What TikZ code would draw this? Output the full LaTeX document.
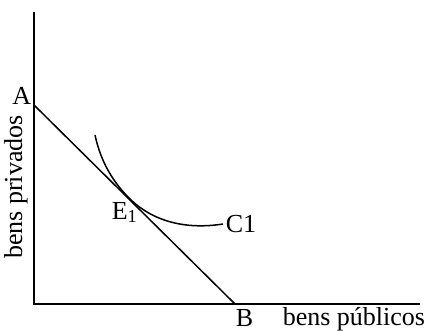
\documentclass[tikz,border=0pt]{standalone}
\usepackage{fontspec}
\setmainfont{Liberation Serif}
\usepackage{tikz}
\usetikzlibrary{positioning, calc}

\begin{document}
\begin{tikzpicture}[x=1pt, y=-1pt, line width=1.5pt,
  every node/.style={font=\fontsize{26}{30}\selectfont, inner sep=0pt}]
  \useasboundingbox (0,0) rectangle (426,330);
  % axes
  \coordinate (O) at (34,304);
  \coordinate (top) at (34,12);
  \coordinate (xend) at (420,304);
  \draw[line width=1.8pt] (top) -- (O) -- (xend);
  % budget line and indifference curve
  \coordinate (A) at (34,105);
  \coordinate (B) at (235,304);
  \coordinate (E) at (129,198);
  \coordinate (S) at (95,135);
  \coordinate (T) at (223,224);
  \draw (A) -- (B);
  \draw (S) .. controls (101,163) and (114,183) .. (E)
            .. controls (152,221) and (185,230) .. (T);
  % labels
  \node[anchor=base east] (lA) at ($(A)+(-2,-1)$) {A};
  \node[anchor=base west] (lB) at ($(B)+(0,22)$) {B};
  \node[anchor=base west] (lE) at (111,219) {E\textsubscript{1}};
  \node[anchor=base west] (lC) at ($(T)+(2,8)$) {C1};
  \node[anchor=base west] (xlab) at (282,325) {bens públicos};
  \node[anchor=base, rotate=90] (ylab) at (22,187) {bens privados};
\end{tikzpicture}
\end{document}
